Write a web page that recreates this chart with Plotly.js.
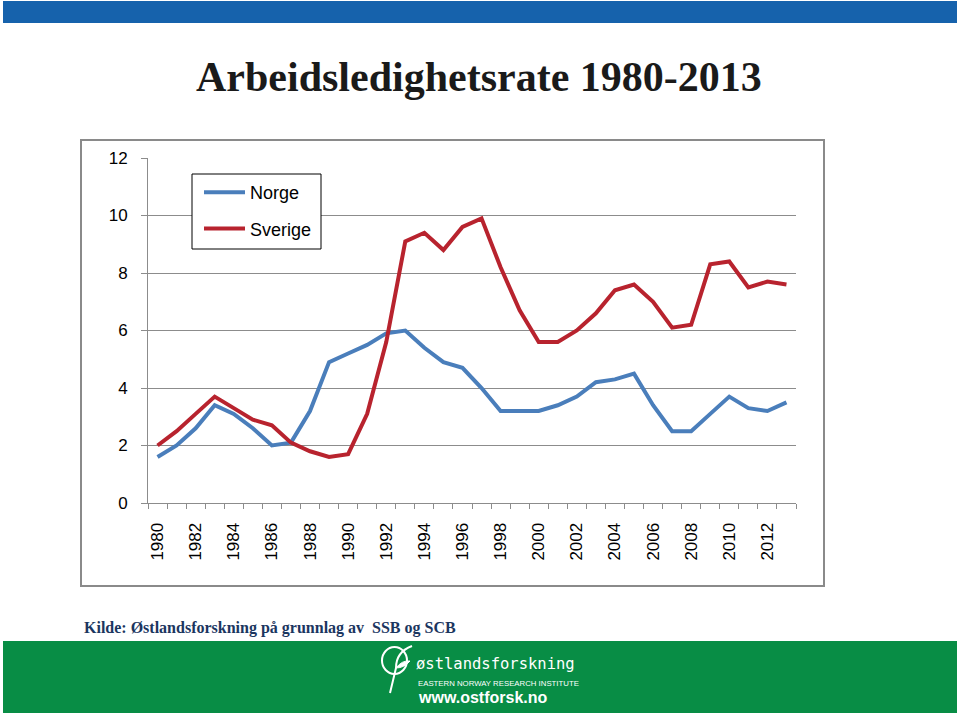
<!DOCTYPE html>
<html>
<head>
<meta charset="utf-8">
<script src="https://cdn.plot.ly/plotly-3.0.1.min.js"></script>
<style>html,body{margin:0;padding:0;background:#fff;}#chart{width:960px;height:716px;}</style>
</head>
<body>
<div id="chart"></div>
<script>
// ---- data ----
var years = [1980,1981,1982,1983,1984,1985,1986,1987,1988,1989,1990,1991,1992,1993,1994,1995,1996,1997,1998,1999,2000,2001,2002,2003,2004,2005,2006,2007,2008,2009,2010,2011,2012,2013];
var norge = [1.6,2.0,2.6,3.4,3.1,2.6,2.0,2.1,3.2,4.9,5.2,5.5,5.9,6.0,5.4,4.9,4.7,4.0,3.2,3.2,3.2,3.4,3.7,4.2,4.3,4.5,3.4,2.5,2.5,3.1,3.7,3.3,3.2,3.5];
var sverige = [2.0,2.5,3.1,3.7,3.3,2.9,2.7,2.1,1.8,1.6,1.7,3.1,5.6,9.1,9.4,8.8,9.6,9.9,8.2,6.7,5.6,5.6,6.0,6.6,7.4,7.6,7.0,6.1,6.2,8.3,8.4,7.5,7.7,7.6];
var xTickLabels = ['1980','1982','1984','1986','1988','1990','1992','1994','1996','1998','2000','2002','2004','2006','2008','2010','2012'];
var yTicks = [0,2,4,6,8,10,12];
var seriesNames = ['Norge','Sverige'];
var titleText = 'Arbeidsledighetsrate 1980-2013';
var sourceText = 'Kilde: Østlandsforskning på grunnlag av&nbsp; SSB og SCB';

// ---- helpers (pixel -> paper) ----
var W = 960, H = 716;
function X(px){ return px / W; }
function Y(py){ return 1 - py / H; }

var boundaries = years.map(function(y){ return y - 0.5; });
boundaries.push(years[years.length-1] + 0.5);

var traces = [
  {x: years, y: norge, name: seriesNames[0], type: 'scatter', mode: 'lines',
   line: {color: '#4A7EBB', width: 4}, legendgroup: 'a'},
  {x: years, y: sverige, name: seriesNames[1], type: 'scatter', mode: 'lines',
   line: {color: '#B8232E', width: 4}, legendgroup: 'b'}
];

var gridCol = '#8c8c8c';

var layout = {
  width: W, height: H,
  margin: {l: 0, r: 0, t: 0, b: 0},
  paper_bgcolor: '#ffffff',
  plot_bgcolor: 'rgba(0,0,0,0)',
  font: {family: 'Liberation Sans, Arial, sans-serif', color: '#000'},
  showlegend: true,
  legend: {
    x: X(199), y: Y(174), xanchor: 'left', yanchor: 'top',
    borderwidth: 0, bgcolor: 'rgba(0,0,0,0)',
    font: {size: 18, color: '#000', family: 'Liberation Sans, Arial, sans-serif'},
    tracegroupgap: 10, itemwidth: 41
  },
  xaxis: {
    domain: [X(148), X(796)],
    range: [boundaries[0], boundaries[boundaries.length-1]],
    tickmode: 'array',
    tickvals: xTickLabels.map(Number),
    ticktext: xTickLabels,
    tickangle: -90,
    ticks: '',
    ticklabelstandoff: 12,
    tickfont: {size: 17, color: '#000'},
    showgrid: false, zeroline: false,
    showline: true, linecolor: gridCol, linewidth: 1,
    minor: {tickmode: 'array', tickvals: boundaries, ticks: 'outside', ticklen: 5, tickcolor: gridCol, tickwidth: 1, showgrid: false}
  },
  yaxis: {
    domain: [Y(503), Y(158)],
    range: [0, 12],
    tickmode: 'array', tickvals: yTicks,
    ticks: 'outside', ticklen: 6, tickcolor: gridCol,
    ticklabelstandoff: 10,
    tickfont: {size: 17, color: '#000'},
    showgrid: true, gridcolor: gridCol, gridwidth: 1,
    zeroline: false, showline: true, linecolor: gridCol, linewidth: 1
  },
  shapes: [
    // top blue bar
    {type: 'rect', xref: 'paper', yref: 'paper', x0: X(3), x1: X(957), y0: Y(23), y1: Y(1),
     fillcolor: '#1662AC', line: {width: 0}, layer: 'below'},
    // chart frame
    {type: 'rect', xref: 'paper', yref: 'paper', x0: X(81), x1: X(824), y0: Y(586), y1: Y(140),
     fillcolor: 'rgba(0,0,0,0)', line: {color: '#8a8a8a', width: 2}, layer: 'below'},
    // legend box
    {type: 'rect', xref: 'paper', yref: 'paper', x0: X(192), x1: X(321), y0: Y(249), y1: Y(174),
     fillcolor: '#ffffff', line: {color: '#000000', width: 1}, layer: 'above'},
    // green footer
    {type: 'rect', xref: 'paper', yref: 'paper', x0: X(3), x1: X(957), y0: Y(713), y1: Y(641),
     fillcolor: '#088D45', line: {width: 0}, layer: 'below'},
    // logo circle
    {type: 'circle', xref: 'paper', yref: 'paper', x0: X(382), x1: X(407), y0: Y(674), y1: Y(647),
     line: {color: '#ffffff', width: 2}, layer: 'above'},
    // logo stem
    {type: 'path', xref: 'paper', yref: 'paper',
     path: 'M' + X(412) + ',' + Y(646) + ' Q' + X(396) + ',' + Y(652) + ' ' + X(396) + ',' + Y(668) + ' L' + X(390) + ',' + Y(693),
     line: {color: '#ffffff', width: 2}, layer: 'above'},
    // logo leaf
    {type: 'path', xref: 'paper', yref: 'paper',
     path: 'M' + X(396) + ',' + Y(668) + ' Q' + X(402) + ',' + Y(660) + ' ' + X(410) + ',' + Y(661) + ' Q' + X(404) + ',' + Y(668) + ' ' + X(396) + ',' + Y(668) + ' Z',
     fillcolor: '#ffffff', line: {color: '#ffffff', width: 1}, layer: 'above'}
  ],
  annotations: [
    {text: '<b>' + titleText + '</b>', xref: 'paper', yref: 'paper', x: X(479), y: Y(77),
     xanchor: 'center', yanchor: 'middle', showarrow: false,
     font: {family: 'Liberation Serif, Times New Roman, serif', size: 42, color: '#1a1a1a'}},
    {text: '<b>' + sourceText + '</b>', xref: 'paper', yref: 'paper', x: X(82), y: Y(628),
     xanchor: 'left', yanchor: 'middle', showarrow: false,
     font: {family: 'Liberation Serif, Times New Roman, serif', size: 16, color: '#1B365F'}},
    {text: 'østlandsforskning', xref: 'paper', yref: 'paper', x: X(414), y: Y(664),
     xanchor: 'left', yanchor: 'middle', showarrow: false,
     font: {family: 'DejaVu Sans Mono, monospace', size: 15.5, color: '#ffffff'}},
    {text: 'EASTERN NORWAY RESEARCH INSTITUTE', xref: 'paper', yref: 'paper', x: X(416), y: Y(683),
     xanchor: 'left', yanchor: 'middle', showarrow: false,
     font: {family: 'Liberation Sans, Arial, sans-serif', size: 7.8, color: '#ffffff'}},
    {text: '<b>www.ostforsk.no</b>', xref: 'paper', yref: 'paper', x: X(416), y: Y(697),
     xanchor: 'left', yanchor: 'middle', showarrow: false,
     font: {family: 'Liberation Sans, Arial, sans-serif', size: 16, color: '#ffffff'}}
  ]
};

Plotly.newPlot('chart', traces, layout, {staticPlot: true, displayModeBar: false});
</script>
</body>
</html>
